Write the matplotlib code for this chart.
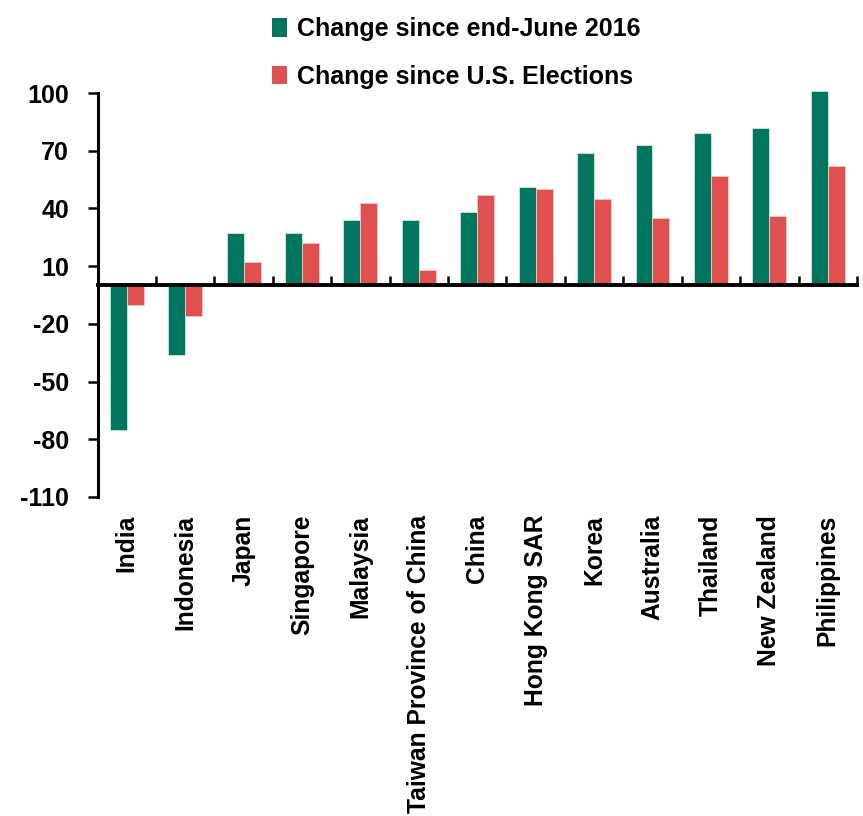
import matplotlib
matplotlib.use("Agg")
import matplotlib.pyplot as plt
from matplotlib.patches import Patch
import numpy as np

# Change in yields (basis points) by economy
countries = ["India", "Indonesia", "Japan", "Singapore", "Malaysia",
             "Taiwan Province of China", "China", "Hong Kong SAR", "Korea",
             "Australia", "Thailand", "New Zealand", "Philippines"]
since_june = [-75, -36, 27, 27, 34, 34, 38, 51, 69, 73, 79, 82, 101]
since_election = [-10, -16, 12, 22, 43, 8, 47, 50, 45, 35, 57, 36, 62]
yticks = [100, 70, 40, 10, -20, -50, -80, -110]

green = "#00765f"
red = "#df504e"

plt.rcParams["font.family"] = ["Liberation Sans", "DejaVu Sans"]
plt.rcParams["font.weight"] = "bold"
fs = 17.7

fig = plt.figure(figsize=(8.63, 8.16), dpi=100)
ax = fig.add_axes([0.113, 0.391, 0.880, 0.495])

x = np.arange(len(countries))
w = 0.29
ax.bar(x - w / 2, since_june, w, color=green, edgecolor="#cfe7e0",
       linewidth=0.6, clip_on=False, zorder=2)
ax.bar(x + w / 2, since_election, w, color=red, edgecolor="#f5c9c8",
       linewidth=0.6, clip_on=False, zorder=2)

ax.set_xlim(-0.5, len(countries) - 0.5)
ax.set_ylim(-110, 100)

# axes: left spine plus a baseline at zero
for s in ["top", "right"]:
    ax.spines[s].set_visible(False)
ax.spines["bottom"].set_position(("data", 0))
ax.spines["bottom"].set_linewidth(2.8)
ax.spines["bottom"].set_zorder(3)
ax.spines["left"].set_linewidth(2.2)

ax.set_yticks(yticks)
ax.set_yticklabels([str(v) for v in yticks])
ax.tick_params(axis="y", direction="out", length=7.5, width=1.8,
               pad=13, labelsize=18)

ax.set_xticks(np.arange(len(countries)) + 0.5)
ax.set_xticklabels([])
ax.tick_params(axis="x", direction="in", length=6.5, width=1.8)

# category names hang below the plot area
for i, name in enumerate(countries):
    ax.annotate(name, (i, -110), xytext=(0, -13), textcoords="offset points",
                rotation=90, ha="center", va="top", fontsize=fs,
                fontweight="bold", annotation_clip=False)

handles = [Patch(facecolor=green, edgecolor="none"),
           Patch(facecolor=red, edgecolor="none")]
fig.legend(handles, ["Change since end-June 2016", "Change since U.S. Elections"],
           loc="upper left", bbox_to_anchor=(0.315, 0.979), frameon=False,
           fontsize=18, handlelength=0.6, handleheight=0.75,
           handletextpad=0.4, labelspacing=0.95, borderaxespad=0, borderpad=0)

fig.savefig("out.png", dpi=100)
